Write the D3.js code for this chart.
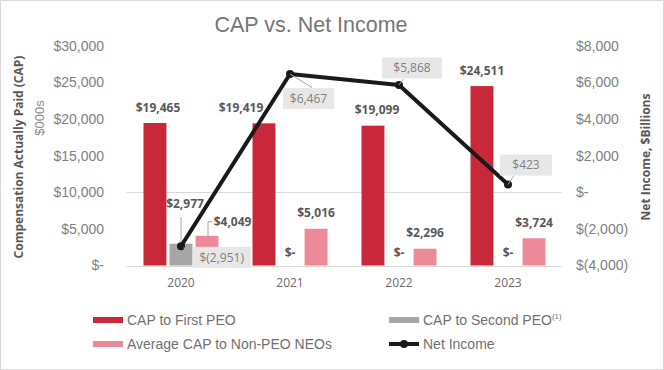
<!DOCTYPE html>
<html>
<head>
<meta charset="utf-8">
<script src="https://cdn.jsdelivr.net/npm/d3@7/dist/d3.min.js"></script>
<style>
  html, body { margin: 0; padding: 0; background: #ffffff; }
  svg { display: block; }
</style>
</head>
<body>
<svg id="chart" width="664" height="370"></svg>
<script>
// ---------------- DATA ----------------
const years = ["2020", "2021", "2022", "2023"];
const capFirstPEO = [19465, 19419, 19099, 24511];
const capSecondPEO = [2977, 0, 0, 0];
const avgCapNonPEO = [4049, 5016, 2296, 3724];
const netIncome = [-2951, 6467, 5868, 423];
const leftTicks = [0, 5000, 10000, 15000, 20000, 25000, 30000];
const rightTicks = [-4000, -2000, 0, 2000, 4000, 6000, 8000];
const seriesNames = ["CAP to First PEO", "CAP to Second PEO", "Average CAP to Non-PEO NEOs", "Net Income"];

// ---------------- STYLE ----------------
const colors = { first: "#c8283a", second: "#a6a6a6", nonpeo: "#ec8a9a", net: "#1a1a1a" };
const W = 664, H = 370;
const plot = { left: 126.5, right: 562.5, top: 45.9, bottom: 265.5 };

const svg = d3.select("#chart");

// border
svg.append("rect").attr("x", 0.5).attr("y", 0.5).attr("width", W - 1).attr("height", H - 1)
  .attr("fill", "#fff").attr("stroke", "#d9d9d9");

const fmt = d3.format(",");
const acct = v => v === 0 ? "$-" : (v < 0 ? "$(" + fmt(-v) + ")" : "$" + fmt(v));

const x = d3.scaleBand().domain(years).range([plot.left, plot.right]).paddingInner(0).paddingOuter(0);
const keys = ["first", "second", "nonpeo"];
const xs = d3.scaleBand().domain(keys).range([-37.5, 37.5]).paddingInner(0.12);
const yL = d3.scaleLinear().domain([0, 30000]).range([plot.bottom, plot.top]);
const yR = d3.scaleLinear().domain([-4000, 8000]).range([plot.bottom, plot.top]);

// title
svg.append("text").attr("x", 311).attr("y", 32).attr("text-anchor", "middle")
  .attr("font-family", "Liberation Sans, Arial, sans-serif").attr("font-size", 21.5)
  .attr("fill", "#767676").text("CAP vs. Net Income");

// grid / axis lines (behind bars)
const gl = svg.append("g");
gl.append("line").attr("x1", plot.left).attr("x2", plot.right - 1)
  .attr("y1", Math.round(yR(0)) + 0.5).attr("y2", Math.round(yR(0)) + 0.5)
  .attr("stroke", "#d9d9d9").attr("stroke-width", 1);
gl.append("line").attr("x1", plot.left).attr("x2", plot.right - 1)
  .attr("y1", Math.round(yL(0)) + 0.5).attr("y2", Math.round(yL(0)) + 0.5)
  .attr("stroke", "#d9d9d9").attr("stroke-width", 1);

// left axis
const axL = d3.axisLeft(yL).tickValues(leftTicks).tickFormat(acct).tickSize(0).tickPadding(0);
const gL = svg.append("g").attr("transform", "translate(104,0)").call(axL);
gL.select(".domain").remove();
gL.selectAll("text").attr("font-family", "Liberation Sans, Arial, sans-serif").attr("font-size", 14)
  .attr("fill", "#808080");

// right axis
const axR = d3.axisRight(yR).tickValues(rightTicks).tickFormat(acct).tickSize(0).tickPadding(0);
const gR = svg.append("g").attr("transform", "translate(576,0)").call(axR);
gR.select(".domain").remove();
gR.selectAll("text").attr("font-family", "Liberation Sans, Arial, sans-serif").attr("font-size", 14)
  .attr("fill", "#808080");

// category axis
const axB = d3.axisBottom(x).tickSize(0).tickPadding(0);
const gB = svg.append("g").attr("transform", "translate(0,287)").call(axB);
gB.select(".domain").remove();
gB.selectAll("text").attr("font-family", "Open Sans, sans-serif").attr("font-size", 12)
  .attr("fill", "#6a6a6a").attr("dy", 0);

// axis titles
svg.append("text").attr("transform", "translate(23,157) rotate(-90)").attr("text-anchor", "middle")
  .attr("font-family", "Open Sans, sans-serif").attr("font-weight", "bold").attr("font-size", 12)
  .attr("fill", "#595959").text("Compensation Actually Paid (CAP)");
svg.append("text").attr("transform", "translate(44,118) rotate(-90)").attr("text-anchor", "middle")
  .attr("font-family", "Liberation Sans, Arial, sans-serif").attr("font-size", 13)
  .attr("fill", "#8a8a8a").text("$000s");
svg.append("text").attr("transform", "translate(650,157) rotate(-90)").attr("text-anchor", "middle")
  .attr("font-family", "Open Sans, sans-serif").attr("font-weight", "bold").attr("font-size", 12)
  .attr("fill", "#595959").text("Net Income, $Billions");

// bars
const barData = [];
years.forEach((yr, i) => {
  barData.push({ year: yr, key: "first", v: capFirstPEO[i], i });
  barData.push({ year: yr, key: "second", v: capSecondPEO[i], i });
  barData.push({ year: yr, key: "nonpeo", v: avgCapNonPEO[i], i });
});
const bx = d => x(d.year) + x.bandwidth() / 2 + xs(d.key);
svg.append("g").selectAll("rect").data(barData).join("rect")
  .attr("x", d => bx(d))
  .attr("width", xs.bandwidth())
  .attr("y", d => yL(d.v))
  .attr("height", d => yL(0) - yL(d.v))
  .attr("fill", d => colors[d.key]);

// bar label nudges (annotation layout)
const nudge = {
  "first-0": [3, 0], "first-1": [-23, 0], "first-2": [4, 0],
  "second-0": [4, -24], "nonpeo-0": [25.5, 1.5]
};
const lblG = svg.append("g");
barData.forEach(d => {
  const k = d.key + "-" + d.i;
  const n = nudge[k] || [0, 0];
  const cx = bx(d) + xs.bandwidth() / 2 + n[0];
  let by = yL(d.v) - 11.5 + n[1] + (d.v === 0 ? 3 : 0);
  lblG.append("text").attr("x", cx).attr("y", by).attr("text-anchor", "middle")
    .attr("font-family", "Open Sans, sans-serif").attr("font-weight", "bold").attr("font-size", 12)
    .attr("fill", "#595959").text(acct(d.v));
});
// leaders for moved 2020 labels
const g2020 = bx(barData[1]) + xs.bandwidth() / 2;
svg.append("path").attr("d", `M${g2020},${yL(capSecondPEO[0])} V217`)
  .attr("stroke", "#a6a6a6").attr("fill", "none");
const p2020 = bx(barData[2]) + xs.bandwidth() / 2 + 1;
svg.append("path").attr("d", `M${p2020},${yL(avgCapNonPEO[0])} V221.7 H${p2020 + 4}`)
  .attr("stroke", "#a6a6a6").attr("fill", "none");

// net income line
const pts = years.map((yr, i) => [x(yr) + x.bandwidth() / 2, yR(netIncome[i])]);
svg.append("path").attr("d", d3.line()(pts)).attr("fill", "none")
  .attr("stroke", colors.net).attr("stroke-width", 4).attr("stroke-linejoin", "round");
svg.append("g").selectAll("circle").data(pts).join("circle")
  .attr("cx", d => d[0]).attr("cy", d => d[1]).attr("r", 4).attr("fill", colors.net);

// net income labels: box center offsets, box width, leader path
const niLab = [
  { dx: 40.7, dy: 11, w: 58, leader: (p) => `M${p[0] + 3},${p[1] + 1} L${p[0] + 4},${p[1] + 6} H${p[0] + 11.7}` },
  { dx: 18.5, dy: 24.6, w: 51, leader: (p) => `M${p[0]},${p[1]} L${p[0] + 22},${p[1] + 13.6}` },
  { dx: 13, dy: -17, w: 60, leader: (p) => `M${p[0]},${p[1]} L${p[0] + 4.5},${p[1] - 6}` },
  { dx: 18, dy: -19.5, w: 52, leader: (p) => `M${p[0]},${p[1]} L${p[0] + 6},${p[1] - 9}` }
];
const niG = svg.append("g");
pts.forEach((p, i) => {
  const L = niLab[i];
  niG.append("path").attr("d", L.leader(p)).attr("stroke", "#a6a6a6").attr("fill", "none");
  const cx = p[0] + L.dx, cy = p[1] + L.dy;
  niG.append("rect").attr("x", cx - L.w / 2).attr("y", cy - 10.5).attr("width", L.w).attr("height", 21)
    .attr("fill", "#e7e7e7");
  niG.append("text").attr("x", cx).attr("y", cy + 4.3).attr("text-anchor", "middle")
    .attr("font-family", "Open Sans, sans-serif").attr("font-size", 12)
    .attr("fill", "#7f7f7f").text(acct(netIncome[i]));
});

// legend
const lg = svg.append("g").attr("font-family", "Liberation Sans, Arial, sans-serif").attr("font-size", 14)
  .attr("fill", "#707070");
const legendItems = [
  { name: seriesNames[0], type: "bar", color: colors.first, x: 93, y: 320 },
  { name: seriesNames[1], type: "bar", color: colors.second, x: 389, y: 320, sup: "(1)" },
  { name: seriesNames[2], type: "bar", color: colors.nonpeo, x: 93, y: 344 },
  { name: seriesNames[3], type: "line", color: colors.net, x: 389, y: 344 }
];
legendItems.forEach(it => {
  if (it.type === "bar") {
    lg.append("rect").attr("x", it.x).attr("y", it.y - 3).attr("width", 30).attr("height", 6).attr("fill", it.color);
  } else {
    lg.append("line").attr("x1", it.x).attr("x2", it.x + 30).attr("y1", it.y).attr("y2", it.y)
      .attr("stroke", it.color).attr("stroke-width", 4);
    lg.append("circle").attr("cx", it.x + 15).attr("cy", it.y).attr("r", 4).attr("fill", it.color);
  }
  const t = lg.append("text").attr("x", it.x + 34).attr("y", it.y + 5).text(it.name);
  if (it.sup) t.append("tspan").attr("font-size", 8).attr("dy", -6).text(it.sup);
});
</script>
</body>
</html>
